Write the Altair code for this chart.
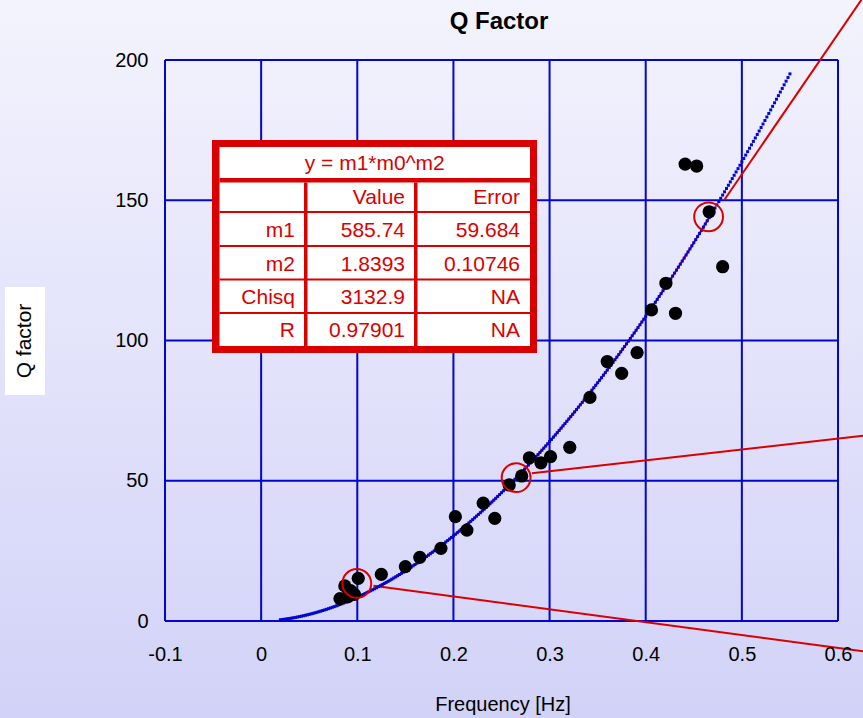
import altair as alt
import numpy as np
import pandas as pd

# Measured samples: resonance frequency [Hz] vs. Q factor
freq = [0.082, 0.087, 0.090, 0.093, 0.097, 0.101, 0.125, 0.150, 0.165, 0.187,
        0.202, 0.214, 0.231, 0.243, 0.258, 0.271, 0.279, 0.291, 0.301, 0.321,
        0.342, 0.360, 0.375, 0.391, 0.406, 0.421, 0.431, 0.441, 0.453, 0.466,
        0.480]
qfac = [8.0, 12.5, 8.6, 10.8, 9.5, 15.2, 16.6, 19.4, 22.7, 25.9,
        37.2, 32.4, 42.0, 36.6, 48.5, 51.7, 58.2, 56.4, 58.6, 61.9,
        79.7, 92.5, 88.3, 95.7, 110.9, 120.4, 109.7, 162.9, 162.2, 145.9,
        126.3]

# Power-law fit y = m1 * x^m2
m1 = 585.74
m2 = 1.8393
fit_title = "y = m1*m0^m2"
col_heads = ["Value", "Error"]
row_names = ["m1", "m2", "Chisq", "R"]
row_values = ["585.74", "1.8393", "3132.9", "0.97901"]
row_errors = ["59.684", "0.10746", "NA", "NA"]

x_ticks = [-0.1, 0, 0.1, 0.2, 0.3, 0.4, 0.5, 0.6]
y_ticks = [0, 50, 100, 150, 200]

# Highlighted samples and their leader lines
ring_x = [0.0995, 0.2652, 0.4654]
ring_y = [13.4, 51.1, 144.1]
lead_x0 = [0.1168, 0.2816, 0.4817]
lead_y0 = [12.6, 52.7, 150.1]
lead_x1 = [0.75, 0.75, 0.66]
lead_y1 = [-16.5, 70.8, 239.3]

# ---- layout ----
CW, CH = 863, 718
PL, PT, W, H = 165, 60, 673, 561
XMIN, XMAX, YMIN, YMAX = -0.1, 0.6, 0.0, 200.0
BLUE = "#0505D0"
RED = "#DA0000"
FONT = "Liberation Sans"


def dx(px):
    return XMIN + (px - PL) / W * (XMAX - XMIN)


def dy(py):
    return YMAX - (py - PT) / H * (YMAX - YMIN)


xsc = alt.Scale(domain=[XMIN, XMAX], nice=False, zero=False)
ysc = alt.Scale(domain=[YMIN, YMAX], nice=False, zero=False)

# label-only axes; grid and frame are drawn as rules
x_axis = alt.Axis(values=x_ticks, title=None, grid=False, domain=False, ticks=False, tickSize=0,
                  labelPadding=23, labelFontSize=20, labelFont=FONT, labelColor="black",
                  labelFlush=False, labelOverlap=False, zindex=2,
                  labelExpr="(datum.value < 0 ? '-' : '') + format(abs(datum.value), '~g')")
y_axis = alt.Axis(values=y_ticks, title=None, grid=False, domain=False, ticks=False, tickSize=0,
                  labelPadding=17, labelFontSize=20, labelFont=FONT, labelColor="black",
                  labelFlush=False, labelOverlap=False, zindex=2, format="d")


def X(f):
    return alt.X(f, type="quantitative", scale=xsc, axis=x_axis)


def Y(f):
    return alt.Y(f, type="quantitative", scale=ysc, axis=y_axis)


# Background gradient over the whole canvas
bg_df = pd.DataFrame({"x": [dx(0)], "x2": [dx(CW)], "y": [dy(0)], "y2": [dy(CH)]})
background = alt.Chart(bg_df).mark_rect(
    fill=alt.Gradient(
        gradient="linear",
        stops=[alt.GradientStop(color="#F3F3FD", offset=0),
               alt.GradientStop(color="#D2D2F8", offset=1)],
        x1=0, x2=0, y1=0, y2=1,
    )
).encode(x=X("x"), x2="x2", y=Y("y"), y2="y2")

# Grid / frame lines
vgrid = alt.Chart(pd.DataFrame({"x": x_ticks, "y": [YMIN] * len(x_ticks), "y2": [YMAX] * len(x_ticks)})).mark_rule(
    color=BLUE, strokeWidth=2
).encode(x=X("x"), y=Y("y"), y2="y2")
hgrid = alt.Chart(pd.DataFrame({"y": y_ticks, "x": [XMIN] * len(y_ticks), "x2": [XMAX] * len(y_ticks)})).mark_rule(
    color=BLUE, strokeWidth=2
).encode(y=Y("y"), x=X("x"), x2="x2")

# Fit curve (red underneath, blue dotted trace on top)
red_x = np.linspace(0.10, ring_x[2], 60)
red_curve = alt.Chart(pd.DataFrame({"x": red_x, "y": m1 * red_x ** m2})).mark_line(
    color=RED, strokeWidth=2
).encode(x=X("x"), y=Y("y"), order="x:Q")

blue_x = np.arange(0.02, 0.5505, 0.002)
blue_curve = alt.Chart(pd.DataFrame({"x": blue_x, "y": m1 * blue_x ** m2})).mark_square(
    color=BLUE, size=9, opacity=1
).encode(x=X("x"), y=Y("y"))

leaders = alt.Chart(pd.DataFrame({"x": lead_x0, "y": lead_y0, "x2": lead_x1, "y2": lead_y1})).mark_rule(
    color=RED, strokeWidth=2
).encode(x=X("x"), y=Y("y"), x2="x2", y2="y2")

points = alt.Chart(pd.DataFrame({"x": freq, "y": qfac})).mark_circle(
    color="black", size=175, opacity=1
).encode(x=X("x"), y=Y("y"))

rings = alt.Chart(pd.DataFrame({"x": ring_x, "y": ring_y})).mark_point(
    shape="circle", filled=False, color=RED, strokeWidth=2, size=830, opacity=1
).encode(x=X("x"), y=Y("y"))

# ---- fit-results table ----
TL, TR, TT, TB = 212, 537, 140, 353          # outer border box
IL, IR, IT, IB = 219.5, 530, 147, 346        # inner white area
SEP_Y = (178, 182.5)                         # under the formula row
COL_SEP = [(304, 307.5), (414, 417.5)]
ROW_SEP = [212, 246, 279.5, 313]
rects = [(TL, TR, TT, TB, RED), (IL, IR, IT, IB, "white"), (IL, IR, SEP_Y[0], SEP_Y[1], RED)]
for a, b in COL_SEP:
    rects.append((a, b, SEP_Y[1], IB, RED))
for r in ROW_SEP:
    rects.append((IL, IR, r - 1, r + 1, RED))
# white box behind the y-axis title
rects.append((5, 45, 287, 395, "white"))
rect_df = pd.DataFrame({
    "x": [dx(r[0]) for r in rects], "x2": [dx(r[1]) for r in rects],
    "y": [dy(r[2]) for r in rects], "y2": [dy(r[3]) for r in rects],
    "fill": [r[4] for r in rects], "k": list(range(len(rects))),
})
table_rects = alt.Chart(rect_df).mark_rect(opacity=1).encode(
    x=X("x"), x2="x2", y=Y("y"), y2="y2",
    color=alt.Color("fill:N", scale=None), order="k:Q",
)

ROW_Y = [197.5, 231, 264.5, 298, 330.5]
COL_R = [295, 405, 520]
cells = []
for j, h in enumerate(col_heads):
    cells.append((COL_R[j + 1], ROW_Y[0], h))
for i in range(len(row_names)):
    cells.append((COL_R[0], ROW_Y[i + 1], row_names[i]))
    cells.append((COL_R[1], ROW_Y[i + 1], row_values[i]))
    cells.append((COL_R[2], ROW_Y[i + 1], row_errors[i]))
cell_df = pd.DataFrame({"x": [dx(c[0]) for c in cells], "y": [dy(c[1]) for c in cells], "t": [c[2] for c in cells]})
table_cells = alt.Chart(cell_df).mark_text(
    align="right", baseline="middle", font=FONT, fontSize=21, color=RED
).encode(x=X("x"), y=Y("y"), text="t:N")

table_head = alt.Chart(pd.DataFrame({"x": [dx((IL + IR) / 2)], "y": [dy(163.5)], "t": [fit_title]})).mark_text(
    align="center", baseline="middle", font=FONT, fontSize=21, color=RED
).encode(x=X("x"), y=Y("y"), text="t:N")

# ---- titles ----
title_txt = alt.Chart(pd.DataFrame({"x": [dx(499)], "y": [dy(22)], "t": ["Q Factor"]})).mark_text(
    align="center", baseline="middle", font=FONT, fontSize=24, fontWeight="bold", color="black"
).encode(x=X("x"), y=Y("y"), text="t:N")

xtitle = alt.Chart(pd.DataFrame({"x": [dx(503)], "y": [dy(705)], "t": ["Frequency [Hz]"]})).mark_text(
    align="center", baseline="middle", font=FONT, fontSize=20, color="black"
).encode(x=X("x"), y=Y("y"), text="t:N")

ytitle = alt.Chart(pd.DataFrame({"x": [dx(25)], "y": [dy(341)], "t": ["Q factor"]})).mark_text(
    align="center", baseline="middle", font=FONT, fontSize=21, angle=270, color="black"
).encode(x=X("x"), y=Y("y"), text="t:N")

chart = alt.layer(
    background, vgrid, hgrid, red_curve, leaders, blue_curve, points, rings,
    table_rects, table_head, table_cells, title_txt, xtitle, ytitle,
).properties(
    width=W, height=H,
    padding={"left": PL, "top": PT, "right": CW - PL - W, "bottom": CH - PT - H},
    autosize=alt.AutoSizeParams(type="none"),
).configure_view(strokeWidth=0).configure(background="#E4E4FA")

chart.save("out.html", embed_options={"renderer": "svg", "actions": False})
